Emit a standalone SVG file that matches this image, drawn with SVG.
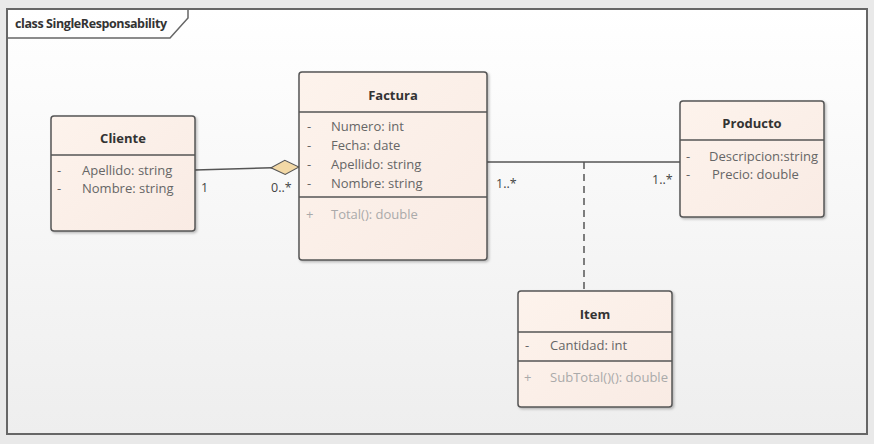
<svg xmlns="http://www.w3.org/2000/svg" width="874" height="444" viewBox="0 0 874 444">
<defs>
<linearGradient id="bg" x1="0" y1="0" x2="0" y2="1">
<stop offset="0" stop-color="#ffffff"/>
<stop offset="1" stop-color="#eeeeee"/>
</linearGradient>
<linearGradient id="box" x1="0" y1="0" x2="1" y2="1">
<stop offset="0" stop-color="#fdf3ec"/>
<stop offset="1" stop-color="#f9ebe4"/>
</linearGradient>
<filter id="sh" x="-10%" y="-10%" width="130%" height="130%">
<feDropShadow dx="1.5" dy="1.5" stdDeviation="1.2" flood-color="#000" flood-opacity="0.25"/>
</filter>
<marker id="agg" markerWidth="30" markerHeight="16" refX="29" refY="8" orient="auto" markerUnits="userSpaceOnUse">
<path d="M1,8 L15,1 L29,8 L15,15 Z" fill="#f3d9a6" stroke="#555" stroke-width="1"/>
</marker>
</defs>
<style>
.cls{fill:url(#box);stroke:#555;stroke-width:1.5;filter:url(#sh)}
.div{stroke:#555;stroke-width:1.5}
.t{font-family:"Open Sans","Liberation Sans",sans-serif;font-size:13px;font-weight:bold;fill:#333;text-anchor:middle}
.a{font-family:"Open Sans","Liberation Sans",sans-serif;font-size:13px;fill:#666}
.o{font-family:"Open Sans","Liberation Sans",sans-serif;font-size:13px;fill:#aaa}
.m{font-family:"Open Sans","Liberation Sans",sans-serif;font-size:12.5px;fill:#444}
.ln{stroke:#555;stroke-width:1.5;fill:none}
</style>
<rect x="0" y="0" width="874" height="444" fill="#e9e9e9"/>
<rect x="7" y="9" width="860" height="425" fill="url(#bg)" stroke="#666" stroke-width="2"/>
<path d="M7,38 H170 L188,18 V9" fill="none" stroke="#666" stroke-width="1.5"/>
<text x="15" y="28" font-family="Open Sans,Liberation Sans,sans-serif" font-size="12.5px" font-weight="bold" fill="#333" letter-spacing="-0.4">class SingleResponsability</text>

<g id="connectors">
<line class="ln" x1="195" y1="170" x2="299" y2="167" marker-end="url(#agg)"/>
<line class="ln" x1="487" y1="162" x2="680" y2="162"/>
<line class="ln" x1="584" y1="162" x2="584" y2="291" stroke-dasharray="7,5"/>
<text class="m" x="201" y="192">1</text>
<text class="m" x="271" y="192">0..*</text>
<text class="m" x="496" y="188">1..*</text>
<text class="m" x="652" y="184">1..*</text>
</g>

<g id="Cliente">
<rect class="cls" x="51" y="116" width="144" height="115" rx="3"/>
<line class="div" x1="51" y1="155" x2="195" y2="155"/>
<text class="t" x="123" y="143">Cliente</text>
<text class="a" x="57" y="175">-</text>
<text class="a" x="82" y="175">Apellido: string</text>
<text class="a" x="57" y="193">-</text>
<text class="a" x="82" y="193">Nombre: string</text>
</g>

<g id="Factura">
<rect class="cls" x="299" y="72" width="188" height="188" rx="3"/>
<line class="div" x1="299" y1="112" x2="487" y2="112"/>
<line class="div" x1="299" y1="197" x2="487" y2="197"/>
<text class="t" x="393" y="100">Factura</text>
<text class="a" x="307" y="131">-</text>
<text class="a" x="331" y="131">Numero: int</text>
<text class="a" x="307" y="150">-</text>
<text class="a" x="331" y="150">Fecha: date</text>
<text class="a" x="307" y="169">-</text>
<text class="a" x="331" y="169">Apellido: string</text>
<text class="a" x="307" y="188">-</text>
<text class="a" x="331" y="188">Nombre: string</text>
<text class="o" x="306" y="219">+</text>
<text class="o" x="331" y="219">Total(): double</text>
</g>

<g id="Producto">
<rect class="cls" x="680" y="101" width="144" height="116" rx="3"/>
<line class="div" x1="680" y1="140" x2="824" y2="140"/>
<text class="t" x="752" y="128">Producto</text>
<text class="a" x="686" y="161">-</text>
<text class="a" x="709" y="161" textLength="109" lengthAdjust="spacingAndGlyphs">Descripcion:string</text>
<text class="a" x="686" y="179">-</text>
<text class="a" x="712" y="179">Precio: double</text>
</g>

<g id="Item">
<rect class="cls" x="518" y="291" width="154" height="116" rx="3"/>
<line class="div" x1="518" y1="332" x2="672" y2="332"/>
<line class="div" x1="518" y1="361" x2="672" y2="361"/>
<text class="t" x="595" y="319">Item</text>
<text class="a" x="525" y="350">-</text>
<text class="a" x="550" y="350">Cantidad: int</text>
<text class="o" x="524" y="382">+</text>
<text class="o" x="550" y="382" textLength="118" lengthAdjust="spacingAndGlyphs">SubTotal()(): double</text>
</g>
</svg>
